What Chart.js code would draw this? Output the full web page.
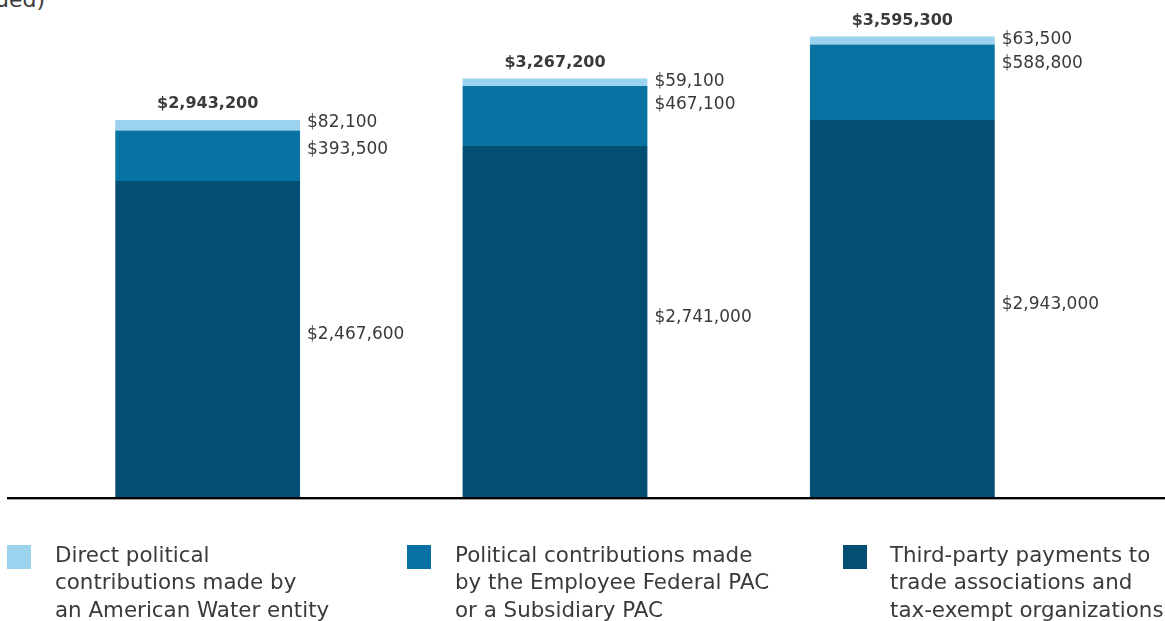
<!DOCTYPE html>
<html>
<head>
<meta charset="utf-8">
<script src="https://cdn.jsdelivr.net/npm/chart.js@4/dist/chart.umd.min.js"></script>
<style>
  html, body { margin: 0; padding: 0; background: #fff; }
  body { width: 1165px; height: 621px; position: relative; overflow: hidden; font-family: "DejaVu Sans", sans-serif; color: #3a3a3a; }
  #c { position: absolute; left: 0; top: 0; }
  .title { position: absolute; right: 1120px; top: -10.6px; font-size: 22px; line-height: 22px; white-space: nowrap; color: #3a3a3a; }
  .sw { position: absolute; width: 24px; height: 24px; top: 545px; }
  .lt { position: absolute; top: 540.8px; font-size: 21.4px; line-height: 27.5px; white-space: nowrap; color: #3a3a3a; }
</style>
</head>
<body>
<div class="title">(continued)</div>
<canvas id="c" width="1165" height="621"></canvas>
<div class="sw" style="left:7px;background:#9bd3ee"></div>
<div class="lt" style="left:55px">Direct political<br>contributions made by<br>an American Water entity</div>
<div class="sw" style="left:407px;background:#0872a2"></div>
<div class="lt" style="left:455px">Political contributions made<br>by the Employee Federal PAC<br>or a Subsidiary PAC</div>
<div class="sw" style="left:843px;background:#034f73"></div>
<div class="lt" style="left:890px">Third-party payments to<br>trade associations and<br>tax-exempt organizations</div>
<script>
const categories = ['2021', '2022', '2023'];
const thirdParty = [2467600, 2741000, 2943000];
const employeePac = [393500, 467100, 588800];
const directContrib = [82100, 59100, 63500];
const totals = [2943200, 3267200, 3595300];

const fmt = v => '$' + v.toLocaleString('en-US');

const labelPlugin = {
  id: 'labels',
  afterDatasetsDraw(chart) {
    const ctx = chart.ctx;
    ctx.save();
    const y0 = chart.scales.y.getPixelForValue(0);
    // baseline
    ctx.fillStyle = '#000';
    ctx.fillRect(7, y0, chart.width - 7, 2);
    ctx.fillStyle = '#a0a0a0';
    ctx.fillRect(7, y0 + 2, chart.width - 7, 1);

    ctx.fillStyle = '#3a3a3a';
    ctx.textBaseline = 'middle';
    chart.data.datasets.forEach((ds, di) => {
      const meta = chart.getDatasetMeta(di);
      meta.data.forEach((el, i) => {
        const right = el.x + el.width / 2;
        let y;
        if (di === 0) y = (el.y + el.base) / 2 - 4;
        else if (di === 1) y = el.y + 19;
        else y = el.y + 3;
        ctx.font = '17px "DejaVu Sans"';
        ctx.textAlign = 'left';
        ctx.fillText(fmt(ds.data[i]), right + 7, y);
        if (di === 2) {
          ctx.font = 'bold 16px "DejaVu Sans"';
          ctx.textAlign = 'center';
          ctx.fillText(fmt(totals[i]), el.x, el.y - 16);
        }
      });
    });
    ctx.restore();
  }
};

new Chart(document.getElementById('c'), {
  type: 'bar',
  data: {
    labels: categories,
    datasets: [
      { label: 'Third-party payments to trade associations and tax-exempt organizations', data: thirdParty, backgroundColor: '#034f73' },
      { label: 'Political contributions made by the Employee Federal PAC or a Subsidiary PAC', data: employeePac, backgroundColor: '#0872a2' },
      { label: 'Direct political contributions made by an American Water entity', data: directContrib, backgroundColor: '#9bd3ee' }
    ]
  },
  options: {
    responsive: false,
    devicePixelRatio: 1,
    animation: false,
    layout: { padding: { left: 34, right: 89, top: 0, bottom: 124 } },
    datasets: { bar: { categoryPercentage: 1, barPercentage: 0.532, borderWidth: 0 } },
    plugins: { legend: { display: false }, tooltip: { enabled: false } },
    scales: {
      x: { stacked: true, display: false, grid: { display: false } },
      y: { stacked: true, display: false, min: 0, max: 3880000, grid: { display: false } }
    }
  },
  plugins: [labelPlugin]
});
</script>
</body>
</html>
